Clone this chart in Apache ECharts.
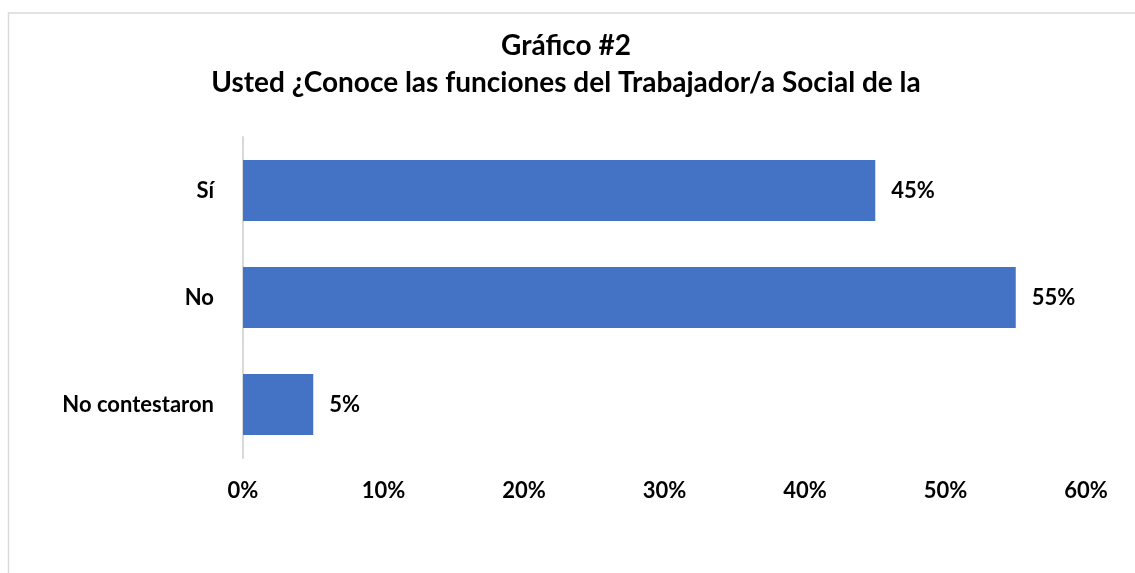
<!DOCTYPE html>
<html>
<head>
<meta charset="utf-8">
<script src="https://cdn.jsdelivr.net/npm/echarts@6/dist/echarts.min.js"></script>
<style>
html,body{margin:0;padding:0;background:#fff;}
#chart{width:1135px;height:573px;}
</style>
</head>
<body>
<div id="chart"></div>
<script>
const titleLines = ['Gráfico #2', 'Usted ¿Conoce las funciones del Trabajador/a Social de la'];
const categories = ['Sí', 'No', 'No contestaron'];
const values = [45, 55, 5];
const xTicks = [0, 10, 20, 30, 40, 50, 60];

const FONT = 'Lato';
const chart = echarts.init(document.getElementById('chart'), null, {renderer: 'canvas'});
chart.setOption({
  backgroundColor: '#fff',
  animation: false,
  graphic: [
    {type: 'rect', shape: {x: 8.5, y: 13, width: 1300, height: 700}, style: {fill: 'none', stroke: '#d9d9d9', lineWidth: 1.5}, silent: true, z: -1},
    {type: 'text', x: 566, y: 46, style: {text: titleLines[0], font: 'bold 28px ' + FONT, fill: '#000', textAlign: 'center', textVerticalAlign: 'middle'}},
    {type: 'text', x: 566, y: 83, style: {text: titleLines[1], font: 'bold 28px ' + FONT, fill: '#000', textAlign: 'center', textVerticalAlign: 'middle'}}
  ],
  grid: {left: 243, right: 49, top: 137, bottom: 115, containLabel: false},
  xAxis: {
    type: 'value', min: xTicks[0], max: xTicks[xTicks.length - 1], interval: 10,
    axisLine: {show: false}, axisTick: {show: false}, splitLine: {show: false},
    axisLabel: {formatter: '{value}%', color: '#000', fontFamily: FONT, fontWeight: 'bold', fontSize: 22, margin: 22}
  },
  yAxis: {
    type: 'category', data: categories, inverse: true,
    axisLine: {show: true, lineStyle: {color: '#d9d9d9', width: 2}},
    axisTick: {show: false},
    axisLabel: {color: '#000', fontFamily: FONT, fontWeight: 'bold', fontSize: 22, margin: 29}
  },
  series: [{
    type: 'bar', data: values, barCategoryGap: '43%',
    itemStyle: {color: '#4472C4'},
    label: {show: true, position: 'right', distance: 16, formatter: '{c}%', color: '#000', fontFamily: FONT, fontWeight: 'bold', fontSize: 22}
  }]
});
</script>
</body>
</html>
